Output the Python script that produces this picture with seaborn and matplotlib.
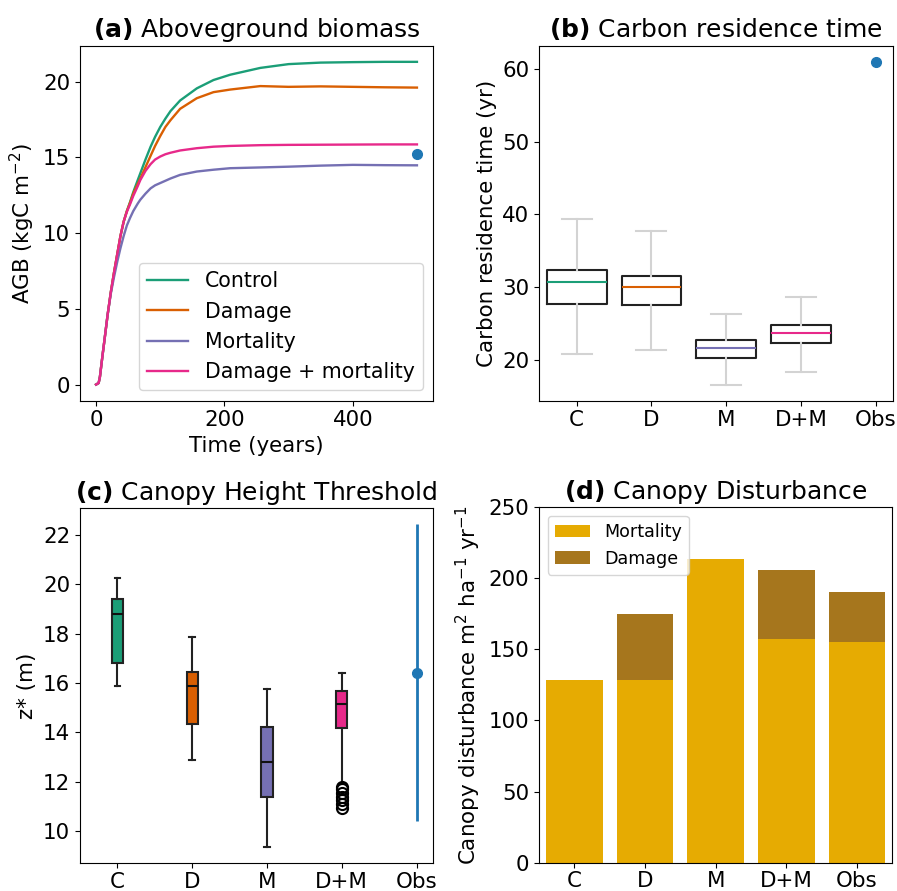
import numpy as np
import pandas as pd
import matplotlib
matplotlib.use("Agg")
import matplotlib.pyplot as plt
import seaborn as sns

# ---------------- data ----------------
years = [0, 4, 6, 8, 10, 13, 18, 23, 28, 33, 38, 43, 48, 53, 58, 65, 69, 77, 85, 92,
         100, 108, 116, 131, 157, 183, 209, 256, 300, 350, 400, 450, 500]
agb_control   = [0, 0.1, 0.5, 1.2, 1.9, 2.9, 4.6, 6.1, 7.4, 8.6, 9.8, 10.75, 11.45, 12.05, 12.7,
                 13.5, 13.95, 14.85, 15.7, 16.35, 17.0, 17.55, 18.05, 18.75, 19.55, 20.1, 20.45,
                 20.9, 21.15, 21.25, 21.28, 21.3, 21.3]
agb_damage    = [0, 0.1, 0.5, 1.2, 1.9, 2.9, 4.6, 6.1, 7.4, 8.6, 9.8, 10.75, 11.45, 12.0, 12.6,
                 13.25, 13.6, 14.35, 15.1, 15.75, 16.4, 17.0, 17.45, 18.2, 18.9, 19.3, 19.47,
                 19.7, 19.65, 19.68, 19.65, 19.62, 19.6]
agb_mortality = [0, 0.1, 0.5, 1.2, 1.9, 2.9, 4.6, 6.0, 7.1, 8.1, 9.0, 9.8, 10.5, 11.0, 11.45,
                 11.95, 12.2, 12.6, 12.95, 13.15, 13.3, 13.45, 13.6, 13.84, 14.06, 14.18, 14.28,
                 14.33, 14.38, 14.45, 14.5, 14.48, 14.47]
agb_dm        = [0, 0.1, 0.5, 1.2, 1.9, 2.9, 4.6, 6.1, 7.4, 8.6, 9.8, 10.75, 11.4, 11.9, 12.45,
                 13.1, 13.5, 14.1, 14.55, 14.85, 15.05, 15.2, 15.3, 15.45, 15.6, 15.7, 15.75,
                 15.8, 15.82, 15.83, 15.84, 15.85, 15.85]
run_names = ["Control", "Damage", "Mortality", "Damage + mortality"]
agb_obs_year = 500
agb_obs = 15.25

categories = ["C", "D", "M", "D+M", "Obs"]

# (b) carbon residence time box stats (C, D, M, D+M)
crt_whislo = [20.8, 21.4, 16.6, 18.3]
crt_q1     = [27.74, 27.56, 20.2, 22.25]
crt_med    = [30.76, 30.0, 21.65, 23.7]
crt_q3     = [32.4, 31.6, 22.7, 24.8]
crt_whishi = [39.4, 37.7, 26.3, 28.7]
crt_obs = 61.0

# (c) canopy height threshold box stats
z_whislo = [15.87, 12.88, 9.35, 11.9]
z_q1     = [16.8, 14.33, 11.37, 14.19]
z_med    = [18.81, 15.87, 12.79, 15.16]
z_q3     = [19.4, 16.46, 14.22, 15.69]
z_whishi = [20.25, 17.88, 15.77, 16.41]
z_fliers = [[], [], [], [10.95, 11.1, 11.25, 11.4, 11.55, 11.7, 11.8]]
z_obs = 16.42
z_obs_low = 10.41
z_obs_high = 22.43

# (d) canopy disturbance
dist_mortality = [128.4, 128.4, 213.9, 157.2, 155.1]
dist_total     = [128.4, 174.8, 213.9, 205.8, 190.7]

# ---------------- style ----------------
dark2 = sns.color_palette("Dark2", 8).as_hex()
run_colors = dark2[:4]
obs_color = "#1f77b4"
mort_color = dark2[5]
dam_color = dark2[6]

plt.rcParams["font.family"] = ["DejaVu Sans"]
plt.rcParams["font.size"] = 15.4
plt.rcParams["axes.labelsize"] = 15.4
plt.rcParams["xtick.labelsize"] = 15.4
plt.rcParams["ytick.labelsize"] = 15.4
TITLE_FS = 18

fig = plt.figure(figsize=(8.97, 8.91), dpi=100)
ax_a = fig.add_axes([0.0892, 0.5503, 0.3935, 0.3984])
ax_b = fig.add_axes([0.6012, 0.5503, 0.3946, 0.3984])
ax_c = fig.add_axes([0.0892, 0.0311, 0.3935, 0.3984])
ax_d = fig.add_axes([0.6009, 0.0318, 0.3939, 0.3989])

# ---------------- (a) ----------------
df = pd.DataFrame({
    "year": years * 4,
    "agb": agb_control + agb_damage + agb_mortality + agb_dm,
    "run": sum([[n] * len(years) for n in run_names], []),
})
sns.lineplot(data=df, x="year", y="agb", hue="run", hue_order=run_names,
             palette=run_colors, linewidth=1.7, ax=ax_a)
ax_a.plot([agb_obs_year], [agb_obs], "o", color=obs_color, markersize=7)
ax_a.set_xlabel("Time (years)")
ax_a.set_ylabel(r"AGB (kgC m$^{-2}$)")
ax_a.set_title(r"$\bf{(a)}$ Aboveground biomass", fontsize=TITLE_FS)
ax_a.legend(loc="lower right", fontsize=14.8)
ax_a.set_yticks([0, 5, 10, 15, 20])
ax_a.set_xticks([0, 200, 400])

# ---------------- (b) ----------------
stats_b = []
for i in range(4):
    stats_b.append(dict(whislo=crt_whislo[i], q1=crt_q1[i], med=crt_med[i],
                        q3=crt_q3[i], whishi=crt_whishi[i], fliers=[]))
bp = ax_b.bxp(stats_b, positions=[1, 2, 3, 4], widths=0.8, patch_artist=False,
              boxprops=dict(color="#222222", linewidth=1.5),
              whiskerprops=dict(color="lightgray", linewidth=1.5),
              capprops=dict(color="lightgray", linewidth=1.5),
              medianprops=dict(linewidth=1.5), manage_ticks=False)
for med, c in zip(bp["medians"], run_colors):
    med.set_color(c)
ax_b.plot([5], [crt_obs], "o", color=obs_color, markersize=7)
ax_b.set_xticks([1, 2, 3, 4, 5])
ax_b.set_xticklabels(categories)
ax_b.set_xlim(0.5, 5.235)
ax_b.set_ylabel("Carbon residence time (yr)")
ax_b.set_title(r"$\bf{(b)}$ Carbon residence time", fontsize=TITLE_FS)
ax_b.set_yticks([20, 30, 40, 50, 60])

# ---------------- (c) ----------------
stats_c = []
for i in range(4):
    stats_c.append(dict(whislo=z_whislo[i], q1=z_q1[i], med=z_med[i],
                        q3=z_q3[i], whishi=z_whishi[i], fliers=z_fliers[i]))
bpc = ax_c.bxp(stats_c, positions=[1, 2, 3, 4], widths=0.15, patch_artist=True,
               boxprops=dict(edgecolor="#222222", linewidth=1.5),
               whiskerprops=dict(color="#222222", linewidth=1.5),
               capprops=dict(color="#222222", linewidth=1.5),
               medianprops=dict(color="#111111", linewidth=1.5),
               flierprops=dict(marker="o", markeredgecolor="black",
                               markerfacecolor="none", markersize=8, markeredgewidth=1.5),
               manage_ticks=False)
for patch, c in zip(bpc["boxes"], run_colors):
    patch.set_facecolor(c)
ax_c.errorbar([5], [z_obs], yerr=[[z_obs - z_obs_low], [z_obs_high - z_obs]],
              fmt="o", color=obs_color, markersize=7, elinewidth=2, capsize=0)
ax_c.set_xticks([1, 2, 3, 4, 5])
ax_c.set_xticklabels(categories)
ax_c.set_xlim(0.5, 5.22)
ax_c.set_ylabel("z* (m)")
ax_c.set_title(r"$\bf{(c)}$ Canopy Height Threshold", fontsize=TITLE_FS)
ax_c.set_yticks([10, 12, 14, 16, 18, 20, 22])
ax_c.tick_params(axis="x", pad=2.5)

# ---------------- (d) ----------------
sns.barplot(x=categories, y=dist_total, color=dam_color, saturation=1,
            width=0.8, ax=ax_d, label="Damage")
sns.barplot(x=categories, y=dist_mortality, color=mort_color, saturation=1,
            width=0.8, ax=ax_d, label="Mortality")
handles, labels = ax_d.get_legend_handles_labels()
order = [labels.index("Mortality"), labels.index("Damage")]
ax_d.legend([handles[i] for i in order], [labels[i] for i in order],
            loc="upper left", fontsize=12.6)
ax_d.set_ylim(0, 250)
ax_d.set_yticks([0, 50, 100, 150, 200, 250])
ax_d.set_ylabel(r"Canopy disturbance m$^{2}$ ha$^{-1}$ yr$^{-1}$")
ax_d.set_title(r"$\bf{(d)}$ Canopy Disturbance", fontsize=TITLE_FS)
ax_d.tick_params(axis="x", pad=2.5)

fig.savefig("out.png", dpi=100)
